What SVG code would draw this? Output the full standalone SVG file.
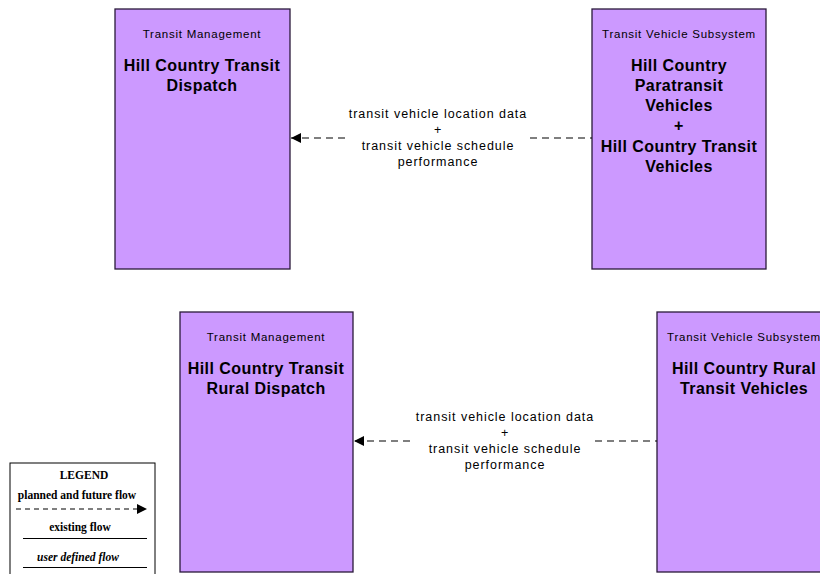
<svg xmlns="http://www.w3.org/2000/svg" width="820" height="574" viewBox="0 0 820 574">
<style>
.box{fill:#CC99FF;stroke:#2a1a3a;stroke-width:1.3}
.sub{font-family:"Liberation Sans",Arial,sans-serif;font-size:11.5px;letter-spacing:0.75px;text-anchor:middle;fill:#000}
.name{font-family:"Liberation Sans",Arial,sans-serif;font-size:16px;font-weight:bold;letter-spacing:0.45px;text-anchor:middle;fill:#000}
.lbl{font-family:"Liberation Sans",Arial,sans-serif;font-size:12.5px;letter-spacing:0.95px;text-anchor:middle;fill:#000}
.flow{stroke:#000;stroke-width:1.2;stroke-dasharray:7,5;fill:none}
.leg{font-family:"Liberation Serif","Times New Roman",serif;font-size:11.5px;font-weight:bold;text-anchor:middle;fill:#000}
</style>
<defs>
<marker id="ah" viewBox="0 0 10 10" refX="10" refY="5" markerWidth="10" markerHeight="10" markerUnits="userSpaceOnUse" orient="auto">
<path d="M0,0 L10,5 L0,10 z" fill="#000"/>
</marker>
</defs>
<rect width="820" height="574" fill="#fff"/>
<g id="n1">
<rect class="box" x="115" y="9" width="175" height="260"/>
<text class="sub" x="202" y="38">Transit Management</text>
<text class="name" x="202" y="71">Hill Country Transit</text>
<text class="name" x="202" y="91">Dispatch</text>
</g>
<g id="n2">
<rect class="box" x="592" y="9" width="174" height="260"/>
<text class="sub" x="679" y="38">Transit Vehicle Subsystem</text>
<text class="name" x="679" y="71">Hill Country</text>
<text class="name" x="679" y="91">Paratransit</text>
<text class="name" x="679" y="111">Vehicles</text>
<text class="name" x="679" y="131">+</text>
<text class="name" x="679" y="152">Hill Country Transit</text>
<text class="name" x="679" y="172">Vehicles</text>
</g>
<g id="n3">
<rect class="box" x="180" y="312" width="173" height="260"/>
<text class="sub" x="266" y="341">Transit Management</text>
<text class="name" x="266" y="374">Hill Country Transit</text>
<text class="name" x="266" y="394">Rural Dispatch</text>
</g>
<g id="n4">
<rect class="box" x="657" y="312" width="175" height="260"/>
<text class="sub" x="744" y="341">Transit Vehicle Subsystem</text>
<text class="name" x="744" y="374">Hill Country Rural</text>
<text class="name" x="744" y="394">Transit Vehicles</text>
</g>
<g id="connectors">
<path class="flow" d="M530,138 L592,138"/>
<path class="flow" d="M345,138 L291,138" marker-end="url(#ah)"/>
<text class="lbl" x="438" y="118">transit vehicle location data</text>
<text class="lbl" x="438" y="134">+</text>
<text class="lbl" x="438" y="150">transit vehicle schedule</text>
<text class="lbl" x="438" y="166">performance</text>
<path class="flow" d="M595,441 L657,441"/>
<path class="flow" d="M410,441 L354,441" marker-end="url(#ah)"/>
<text class="lbl" x="505" y="421">transit vehicle location data</text>
<text class="lbl" x="505" y="437">+</text>
<text class="lbl" x="505" y="453">transit vehicle schedule</text>
<text class="lbl" x="505" y="469">performance</text>
</g>
<g id="legend">
<rect x="10" y="463" width="145" height="115" fill="#fff" stroke="#000" stroke-width="1"/>
<text class="leg" x="84" y="479">LEGEND</text>
<text class="leg" x="77" y="499">planned and future flow</text>
<path d="M16,509 L138,509" stroke="#000" stroke-width="1.2" stroke-dasharray="5,4"/>
<path d="M137,504 L147,509 L137,514 z" fill="#000"/>
<text class="leg" x="80" y="531">existing flow</text>
<path d="M23,538.5 L147,538.5" stroke="#000" stroke-width="1"/>
<text class="leg" x="78" y="561" font-style="italic">user defined flow</text>
<path d="M23,567.5 L147,567.5" stroke="#000" stroke-width="1"/>
</g>
</svg>
